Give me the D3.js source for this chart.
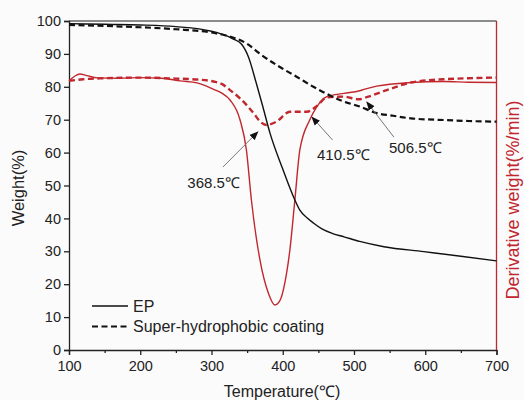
<!DOCTYPE html>
<html>
<head>
<meta charset="utf-8">
<script src="https://cdn.jsdelivr.net/npm/d3@7"></script>
<style>
  html, body { margin: 0; padding: 0; background: #fbfbfc; }
  svg { display: block; font-family: "Liberation Sans", Arial, sans-serif; }
</style>
</head>
<body>
<svg id="chart" width="524" height="400"></svg>
<script>
// ---------- data ----------
const xTicks = [100, 200, 300, 400, 500, 600, 700];
const xMinorTicks = [150, 250, 350, 450, 550, 650];
const yTicks = [0, 10, 20, 30, 40, 50, 60, 70, 80, 90, 100];

// TGA weight (%) - EP
const epTemp   = [100, 150, 200, 250, 300, 320, 330, 342, 352, 363, 372, 382, 400, 417, 424, 434, 443, 455, 470, 486, 508, 542, 598, 650, 700];
const epWeight = [99.2, 99.0, 98.8, 98.3, 96.9, 95.6, 94.6, 93.0, 89.0, 81.0, 74.0, 66.0, 55.0, 45.6, 42.5, 40.2, 38.6, 36.8, 35.4, 34.4, 33.0, 31.4, 29.9, 28.5, 27.1];

// TGA weight (%) - Super-hydrophobic coating
const coTemp   = [100, 150, 200, 250, 300, 320, 330, 349, 370, 396, 420, 443, 465, 486, 508, 532, 555, 580, 626, 660, 700];
const coWeight = [98.8, 98.5, 98.1, 97.5, 96.5, 95.6, 95.0, 93.2, 89.7, 86.0, 83.0, 80.0, 77.5, 75.5, 74.0, 72.0, 71.2, 70.4, 69.9, 69.6, 69.4];

// DTG curves (right axis, no tick labels; values as read in plot units)
const epDTemp  = [100, 108, 115, 125, 140, 170, 200, 230, 256, 280, 303, 315, 326, 340, 349, 356, 368, 380, 389, 396, 403, 410, 417, 424, 438, 448, 462, 486, 508, 514, 532, 580, 626, 660, 700];
const epDeriv  = [81.8, 83.2, 83.9, 83.4, 82.7, 82.6, 82.8, 82.6, 81.8, 81.2, 79.2, 78.0, 76.0, 70.0, 60.8, 45.6, 27.4, 17.2, 13.7, 15.0, 20.5, 30.4, 45.6, 60.8, 70.0, 74.0, 77.0, 78.0, 78.8, 79.2, 80.2, 81.3, 81.6, 81.4, 81.3];

const coDTemp  = [100, 120, 150, 200, 250, 280, 303, 315, 326, 340, 359, 368, 377, 391, 410, 434, 448, 462, 486, 506, 520, 546, 580, 626, 660, 700];
const coDeriv  = [81.8, 82.3, 82.6, 82.8, 82.5, 82.2, 81.6, 80.8, 79.0, 76.5, 72.0, 69.5, 68.4, 69.4, 72.4, 72.4, 74.2, 76.8, 77.0, 76.2, 77.0, 79.0, 81.3, 82.3, 82.6, 82.8];

// annotations: label, arrow tip (T, v), arrow tail (T, v), label centre (T, v)
const annLabels = ["368.5℃", "410.5℃", "506.5℃"];
const annTip    = [[365, 66.3], [441, 70.8], [518, 75.4]];
const annTail   = [[316, 55.6], [470, 63.8], [556, 64.7]];
const annText   = [[303, 51.0], [485, 59.3], [586, 61.4]];

const legendNames = ["EP", "Super-hydrophobic coating"];

// ---------- layout ----------
const svg = d3.select("#chart");
const L = 69, R = 496.5, T = 21, B = 350;
const red = "#c1272d";
const textCol = "#222";

const x = d3.scaleLinear().domain([100, 700]).range([L, R]);
const y = d3.scaleLinear().domain([0, 100]).range([B, T]);
const y2 = d3.scaleLinear().domain([0, 100]).range([B, T]);

// top frame line
svg.append("line").attr("x1", L).attr("x2", R).attr("y1", T).attr("y2", T)
  .attr("stroke", "#666").attr("stroke-width", 1.5);

// x axis
const gx = svg.append("g").attr("transform", `translate(0,${B})`)
  .call(d3.axisBottom(x).tickValues(xTicks).tickSize(5).tickPadding(4).tickFormat(d3.format("d")));
svg.append("g").attr("transform", `translate(0,${B})`)
  .call(d3.axisBottom(x).tickValues(xMinorTicks).tickSize(3).tickFormat(""))
  .call(g => g.select(".domain").remove());

// y axis
const gy = svg.append("g").attr("transform", `translate(${L},0)`)
  .call(d3.axisLeft(y).tickValues(yTicks).tickSize(5).tickPadding(3).tickFormat(d3.format("d")));

svg.selectAll(".tick line, .domain").attr("stroke", "#222").attr("stroke-width", 1.3);
svg.selectAll(".tick text").attr("font-size", 14.5).attr("fill", textCol)
  .attr("font-family", "'Liberation Sans', Arial, sans-serif");
gx.selectAll(".tick text").attr("dy", "0.85em");

// right axis (red, no ticks)
svg.append("line").attr("x1", R).attr("x2", R).attr("y1", T).attr("y2", B)
  .attr("stroke", red).attr("stroke-width", 1.3);

// ---------- lines ----------
const lineW = (xs, ys, ys2) => d3.line().x((d, i) => x(xs[i])).y((d, i) => ys2(d)).curve(d3.curveMonotoneX);

function drawLine(xs, ys, scale, color, width, dash) {
  const p = svg.append("path").datum(ys)
    .attr("fill", "none").attr("stroke", color).attr("stroke-width", width)
    .attr("stroke-linejoin", "round")
    .attr("d", lineW(xs, ys, scale));
  if (dash) p.attr("stroke-dasharray", dash);
  return p;
}

drawLine(epDTemp, epDeriv, y2, red, 1.4, null);
drawLine(coDTemp, coDeriv, y2, red, 2.4, "6,3.5");
drawLine(epTemp, epWeight, y, "#111", 1.4, null);
drawLine(coTemp, coWeight, y, "#111", 2.2, "6,3.5");

// ---------- annotations ----------
const defs = svg.append("defs");
defs.append("marker").attr("id", "ah").attr("viewBox", "0 0 10 10")
  .attr("refX", 9).attr("refY", 5).attr("markerWidth", 9).attr("markerHeight", 9)
  .attr("markerUnits", "userSpaceOnUse").attr("orient", "auto")
  .append("path").attr("d", "M0,1 L10,5 L0,9 Z").attr("fill", "#111");

annLabels.forEach((lab, i) => {
  svg.append("line")
    .attr("x1", x(annTail[i][0])).attr("y1", y(annTail[i][1]))
    .attr("x2", x(annTip[i][0])).attr("y2", y(annTip[i][1]))
    .attr("stroke", "#777").attr("stroke-width", 1)
    .attr("marker-end", "url(#ah)");
  svg.append("text")
    .attr("x", x(annText[i][0])).attr("y", y(annText[i][1]))
    .attr("text-anchor", "middle").attr("dominant-baseline", "central")
    .attr("font-size", 15).attr("fill", textCol)
    .text(lab);
});

// ---------- legend ----------
const lg = svg.append("g").attr("transform", `translate(${L + 23},306)`);
[0, 1].forEach(i => {
  const yy = i * 20.5;
  lg.append("line").attr("x1", 0).attr("x2", 36).attr("y1", yy).attr("y2", yy)
    .attr("stroke", "#111").attr("stroke-width", i ? 2.2 : 1.4)
    .attr("stroke-dasharray", i ? "6,3.5" : null);
  lg.append("text").attr("x", 41).attr("y", yy).attr("dominant-baseline", "central")
    .attr("font-size", 16).attr("fill", textCol).text(legendNames[i]);
});

// ---------- axis titles ----------
svg.append("text").attr("x", 282).attr("y", 391).attr("text-anchor", "middle")
  .attr("dominant-baseline", "central").attr("font-size", 16).attr("fill", textCol)
  .text("Temperature(℃)");
svg.append("text").attr("transform", "translate(18,188) rotate(-90)")
  .attr("text-anchor", "middle").attr("dominant-baseline", "central")
  .attr("font-size", 16.5).attr("fill", textCol).text("Weight(%)");
svg.append("text").attr("transform", "translate(513,200) rotate(-90)")
  .attr("text-anchor", "middle").attr("dominant-baseline", "central")
  .attr("font-size", 18).attr("fill", red).text("Derivative weight(%/min)");
</script>
</body>
</html>
